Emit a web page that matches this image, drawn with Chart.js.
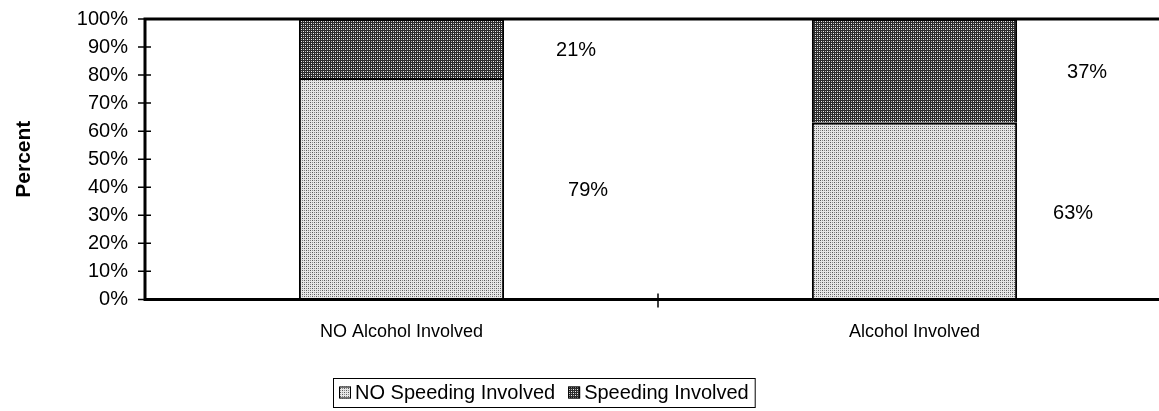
<!DOCTYPE html>
<html>
<head>
<meta charset="utf-8">
<script src="https://cdn.jsdelivr.net/npm/chart.js@4.4.1/dist/chart.umd.min.js"></script>
<style>
  html, body { margin: 0; padding: 0; background: #fff; overflow: hidden; }
</style>
</head>
<body>
<canvas id="chart" width="1175" height="411"></canvas>
<script>
const categories = ['NO Alcohol Involved', 'Alcohol Involved'];
const seriesNames = ['NO Speeding Involved', 'Speeding Involved'];
const noSpeeding = [79, 63];
const speeding = [21, 37];
const yTicks = [0, 10, 20, 30, 40, 50, 60, 70, 80, 90, 100];

const FONT = "'Liberation Sans', Arial, Helvetica, sans-serif";
Chart.defaults.font.family = FONT;
Chart.defaults.color = '#000';

// small 4x4 dither tiles, like the old printer shading
function makePattern(bg, dots) {
  const c = document.createElement('canvas');
  c.width = 4; c.height = 4;
  const g = c.getContext('2d');
  g.fillStyle = bg;
  g.fillRect(0, 0, 4, 4);
  dots.forEach(([x, y, col]) => { g.fillStyle = col; g.fillRect(x, y, 1, 1); });
  return g.createPattern(c, 'repeat');
}
const lightFill = makePattern('#e6e6e6', [[0, 0, '#5a5a5a'], [2, 2, '#5a5a5a'], [2, 0, '#8a8a8a'], [0, 2, '#8a8a8a']]);
const darkFill = makePattern('#2c2c2c', [[1, 1, '#f0f0f0'], [3, 3, '#f0f0f0'], [3, 1, '#b4b4b4'], [1, 3, '#b4b4b4']]);

// plot frame + ticks that cross the axis lines
const frame = {
  id: 'frame',
  afterDatasetsDraw(chart) {
    const { ctx, chartArea: a, scales } = chart;
    ctx.save();
    ctx.strokeStyle = '#000';
    ctx.lineWidth = 3;
    ctx.beginPath();
    ctx.moveTo(a.left, a.top); ctx.lineTo(a.right, a.top);
    ctx.moveTo(a.left, a.top - 1.5); ctx.lineTo(a.left, a.bottom + 1.5);
    ctx.moveTo(a.left, a.bottom); ctx.lineTo(a.right, a.bottom);
    ctx.moveTo(a.right, a.top); ctx.lineTo(a.right, a.bottom);
    ctx.stroke();
    ctx.lineWidth = 1.5;
    ctx.beginPath();
    scales.y.ticks.forEach(t => {
      const y = scales.y.getPixelForValue(t.value);
      ctx.moveTo(a.left - 7, y); ctx.lineTo(a.left + 6, y);
    });
    const half = (scales.x.getPixelForValue(1) - scales.x.getPixelForValue(0)) / 2;
    categories.forEach((c, i) => {
      if (i === 0) return;
      const x = scales.x.getPixelForValue(i) - half;
      ctx.moveTo(x, a.bottom - 6); ctx.lineTo(x, a.bottom + 8);
    });
    ctx.stroke();
    ctx.restore();
  }
};

// percent labels beside each stacked segment
const sideLabels = {
  id: 'sideLabels',
  afterDatasetsDraw(chart, args, opts) {
    const { ctx } = chart;
    ctx.save();
    ctx.font = '20px ' + FONT;
    ctx.fillStyle = '#000';
    ctx.textAlign = 'center';
    ctx.textBaseline = 'middle';
    chart.data.datasets.forEach((ds, di) => {
      chart.getDatasetMeta(di).data.forEach((bar, i) => {
        const x = bar.x + bar.width / 2 + opts.shift[di][i];
        const y = (bar.y + bar.base) / 2 + 2;
        ctx.fillText(ds.data[i] + '%', x, y);
      });
    });
    ctx.restore();
  }
};

// boxed legend under the axis
const boxLegend = {
  id: 'boxLegend',
  afterDraw(chart, args, opts) {
    const { ctx } = chart;
    ctx.save();
    ctx.font = '20px ' + FONT;
    ctx.textBaseline = 'middle';
    const sw = 12, gapIn = 4, gapOut = 13, pad = 6;
    let x = opts.left + pad;
    const cy = (opts.top + opts.bottom) / 2;
    chart.data.datasets.forEach((ds, i) => {
      if (i > 0) x += gapOut;
      ctx.fillStyle = ds.backgroundColor;
      ctx.fillRect(x, cy - sw / 2, sw, sw);
      ctx.strokeStyle = '#000';
      ctx.lineWidth = 1;
      ctx.strokeRect(x + 0.5, cy - sw / 2 + 0.5, sw - 1, sw - 1);
      x += sw + gapIn;
      ctx.fillStyle = '#000';
      ctx.fillText(ds.label, x, cy + 1);
      x += ctx.measureText(ds.label).width;
    });
    x += pad;
    ctx.lineWidth = 1;
    ctx.strokeStyle = '#000';
    ctx.strokeRect(opts.left + 0.5, opts.top + 0.5, x - opts.left, opts.bottom - opts.top);
    ctx.restore();
  }
};

new Chart(document.getElementById('chart'), {
  type: 'bar',
  data: {
    labels: categories,
    datasets: [
      { label: seriesNames[0], data: noSpeeding, backgroundColor: lightFill, borderColor: '#000', borderWidth: 2 },
      { label: seriesNames[1], data: speeding, backgroundColor: darkFill, borderColor: '#000', borderWidth: 2 }
    ]
  },
  options: {
    responsive: false,
    animation: false,
    events: [],
    categoryPercentage: 1,
    barPercentage: 0.4,
    layout: { padding: { top: 19, right: 4, bottom: 46, left: 0 } },
    plugins: {
      legend: { display: false },
      tooltip: { enabled: false },
      sideLabels: { shift: [[84, 56], [72, 70]] },
      boxLegend: { left: 333, top: 378, bottom: 407 }
    },
    scales: {
      x: {
        stacked: true,
        offset: true,
        grid: { display: false, drawTicks: false },
        border: { display: false },
        ticks: { font: { size: 18 }, padding: 22 }
      },
      y: {
        stacked: true,
        min: 0,
        max: 100,
        afterBuildTicks: s => { s.ticks = yTicks.map(v => ({ value: v })); },
        afterFit: s => { s.width = 145; s.paddingTop = 0; s.paddingBottom = 0; },
        grid: { display: false, drawTicks: false },
        border: { display: false },
        ticks: { font: { size: 20 }, padding: 17, autoSkip: false, callback: v => v + '%' },
        title: { display: true, text: 'Percent', font: { size: 21, weight: 'bold' }, padding: { top: 12, bottom: 0 } }
      }
    }
  },
  plugins: [frame, sideLabels, boxLegend]
});
</script>
</body>
</html>
